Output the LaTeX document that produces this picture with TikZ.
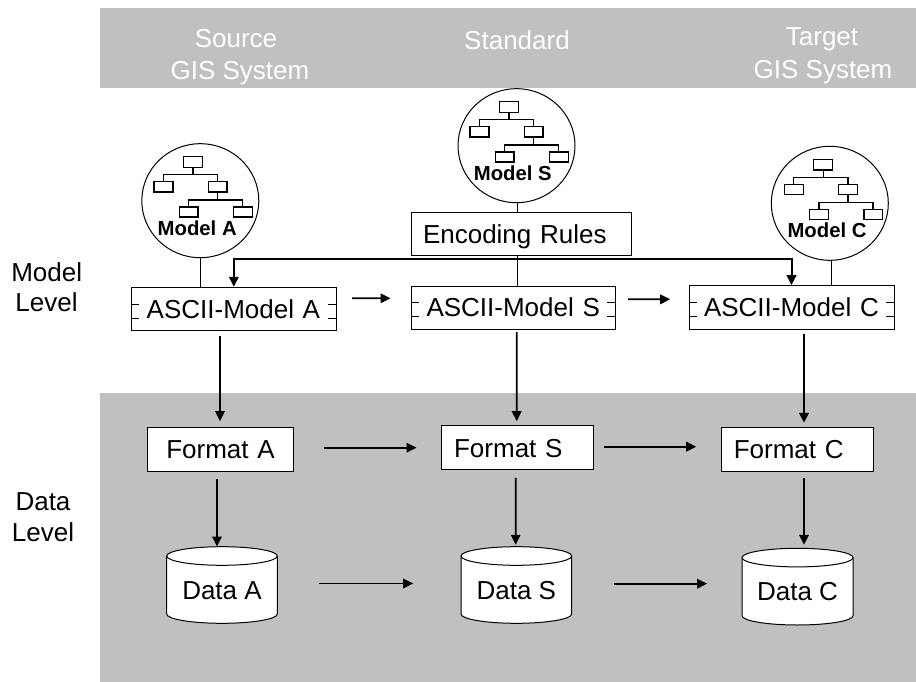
\documentclass[tikz,border=0pt]{standalone}
\usepackage{fontspec}
\setmainfont{Liberation Sans}
\usetikzlibrary{arrows.meta,shapes.geometric,calc}
\definecolor{band}{HTML}{C0C0C0}
\newcommand{\modeltree}[2]{%
  \begin{scope}[shift={(#1,#2)},line width=1.5pt]
    \draw (0,0) rectangle (19,10.6);
    \draw (9.7,10.6) -- (9.7,18);
    \draw (-20,25) -- (-20,18) -- (34.4,18) -- (34.4,25);
    \draw (-29.3,25) rectangle (-10.3,35.3);
    \draw (25,25) rectangle (43.7,35.3);
    \draw (34.4,35.3) -- (34.4,43.3);
    \draw (5.4,50.3) -- (5.4,43.3) -- (59.4,43.3) -- (59.4,50.3);
    \draw (-4,50.3) rectangle (14.7,60.3);
    \draw (50.4,50.3) rectangle (69,60.3);
  \end{scope}}
\newcommand{\portstubs}[1]{%
  \draw[thin line] ([yshift=5pt]#1.west) -- ++(8,0);
  \draw[thin line] ([yshift=-9pt]#1.west) -- ++(8,0);
  \draw[thin line] ([yshift=5pt]#1.east) -- ++(-9,0);
  \draw[thin line] ([yshift=-9pt]#1.east) -- ++(-9,0);}
\newcommand{\drum}[4]{% left, top, width, height
  \draw[line width=1pt,fill=white] (#1,#2+9.3)
     arc[start angle=180,end angle=360,x radius=#3/2,y radius=9.3]
     -- (#1+#3,#2+#4-9.3)
     arc[start angle=0,end angle=180,x radius=#3/2,y radius=9.3] -- cycle;
  \draw[line width=1pt] (#1,#2+9.3)
     arc[start angle=180,end angle=0,x radius=#3/2,y radius=9.3];}
\tikzset{
  thin line/.style={line width=1pt},
  txt/.style={font=\fontsize{26}{30}\selectfont,inner sep=0pt,anchor=base},
  headtxt/.style={txt,text=white},
  boxn/.style 2 args={draw,line width=1pt,fill=white,inner sep=0pt,
    text width=#1 pt,minimum height=#2 pt,align=left,text height=18.6pt,text depth=0pt,
    font=\fontsize{26}{30}\selectfont},
  modelc/.style={ellipse,draw,line width=1pt,fill=white,inner sep=0pt,
    minimum width=117pt,minimum height=114pt},
  modeltxt/.style={font=\fontsize{20.3}{24}\selectfont\bfseries,inner sep=0pt,anchor=base},
  drumn/.style 2 args={inner sep=0pt,minimum width=#1 pt,minimum height=#2 pt,
    text height=28pt,text depth=0pt,font=\fontsize{26}{30}\selectfont},
  arr/.style={line width=1.8pt,-{Triangle[length=10pt,width=9.5pt]}},
  busarr/.style={line width=2pt,{Triangle[length=10pt,width=9.5pt]}-{Triangle[length=10pt,width=9.5pt]}},
}
\begin{document}
\begin{tikzpicture}[x=1pt,y=-1pt]
\useasboundingbox (0,0) rectangle (916,682);
\fill[white] (0,0) rectangle (916,682);
\fill[band] (100,8) rectangle (916,87.7);
\fill[band] (100,393.3) rectangle (916,682);

\node[headtxt] (hsrc1) at (236,47.7) {Source};
\node[headtxt] (hsrc2) at (240,79.3) {GIS System};
\node[headtxt] (hstd) at (517,50) {Standard};
\node[headtxt] (htgt1) at (822,45.3) {Target};
\node[headtxt] (htgt2) at (823,78.3) {GIS System};

\node[txt] (lm1) at (46.7,281.7) {Model};
\node[txt] (lm2) at (46.5,311.7) {Level};
\node[txt] (ld1) at (43,510) {Data};
\node[txt] (ld2) at (43,541.7) {Level};

% models
\node[modelc] (cA) at (200.3,200.7) {};
\node[modelc] (cS) at (516.5,145.7) {};
\node[modelc] (cC) at (829.8,203.3) {};
\modeltree{183.3}{156.7}
\modeltree{499.3}{101.7}
\modeltree{813.7}{159.3}
\node[modeltxt] (mA) at (197.2,235) {Model A};
\node[modeltxt] (mS) at (512.8,180) {Model S};
\node[modeltxt] (mC) at (827,237.3) {Model C};

% boxes
\node[boxn={220.7}{43.4}] (enc) at (521.35,234) {\hspace*{12pt}Encoding Rules};
\node[boxn={204.3}{43.4}] (aA) at (233.85,309) {\hspace*{15pt}ASCII-Model A};
\node[boxn={204.7}{43.3}] (aS) at (513.35,307.65) {\hspace*{15.5pt}ASCII-Model S};
\node[boxn={205}{43.6}] (aC) at (791.5,307.5) {\hspace*{15pt}ASCII-Model C};
\portstubs{aA}\portstubs{aS}\portstubs{aC}
\node[boxn={146.4}{44.4}] (fA) at (220.5,449.5) {\hspace*{19pt}Format A};
\node[boxn={152}{44}] (fS) at (517.7,447.7) {\hspace*{12.4pt}Format S};
\node[boxn={152}{44}] (fC) at (797.3,449.3) {\hspace*{12.5pt}Format C};

% data stores
\drum{166.7}{546.7}{110.6}{76.6}
\drum{461}{546.7}{110.7}{76.6}
\drum{742}{548.3}{111}{76.7}
\node[drumn={110.6}{76.6}] (dA) at (222,585) {Data A};
\node[drumn={110.7}{76.6}] (dS) at (516.35,585) {Data S};
\node[drumn={111}{76.7}] (dC) at (797.5,586.65) {Data C};

% plain links
\draw[thin line] (cA.south) -- (cA.south |- aA.north);
\draw[thin line] ([xshift=0.8pt]cS.south) -- ([xshift=0.8pt]cS.south |- enc.north);
\draw[thin line] ([xshift=0.8pt]cS.south |- enc.south) -- ([xshift=0.8pt]cS.south |- aS.north);
\draw[thin line] ([xshift=2pt]cC.south) -- ([xshift=2pt]cC.south |- aC.north);

% bus
\coordinate (bus) at (500,259.3);
\draw[busarr] (aA.north) |- (bus) -| (aC.north);

% model-level arrows
\draw[arr,shorten <=15.7pt,shorten >=20pt] ([yshift=10.7pt]aA.east) -- ([yshift=9.35pt]aS.west);
\draw[arr,shorten <=12pt,shorten >=18.3pt] ([yshift=8.35pt]aS.east) -- ([yshift=8.2pt]aC.west);
\draw[arr,shorten <=4.3pt,shorten >=5.6pt] ([xshift=-13.85pt]aA.south) -- ([xshift=-0.5pt]fA.north);
\draw[arr,shorten <=2.4pt,shorten >=4pt] ([xshift=3.35pt]aS.south) -- ([xshift=-1pt]fS.north);
\draw[arr,shorten <=4pt,shorten >=4pt] ([xshift=12.5pt]aC.south) -- ([xshift=6.7pt]fC.north);

% format-level arrows
\draw[arr,shorten <=29.3pt,shorten >=24.7pt] ([yshift=1.8pt]fA.east) -- (fS.west);
\draw[arr,shorten <=9.6pt,shorten >=24.6pt] ([yshift=1pt]fS.east) -- ([yshift=2.6pt]fC.west);
\draw[arr,shorten <=6.6pt] ([xshift=-3.5pt]fA.south) -- ([xshift=-5pt]dA.north);
\draw[arr,shorten <=7.6pt,shorten >=1.7pt] ([xshift=-2pt]fS.south) -- ([xshift=-0.65pt]dS.north);
\draw[arr,shorten <=6pt,shorten >=3.3pt] ([xshift=6.7pt]fC.south) -- ([xshift=6.5pt]dC.north);

% data-level arrows
\draw[arr,shorten <=41.7pt,shorten >=47.7pt] ([yshift=1.5pt]dA.east) -- ([yshift=1.5pt]dS.west);
\draw[arr,shorten <=41.6pt,shorten >=34.7pt] ([yshift=1.3pt]dS.east) -- ([yshift=2.95pt]dC.west);
\end{tikzpicture}
\end{document}
